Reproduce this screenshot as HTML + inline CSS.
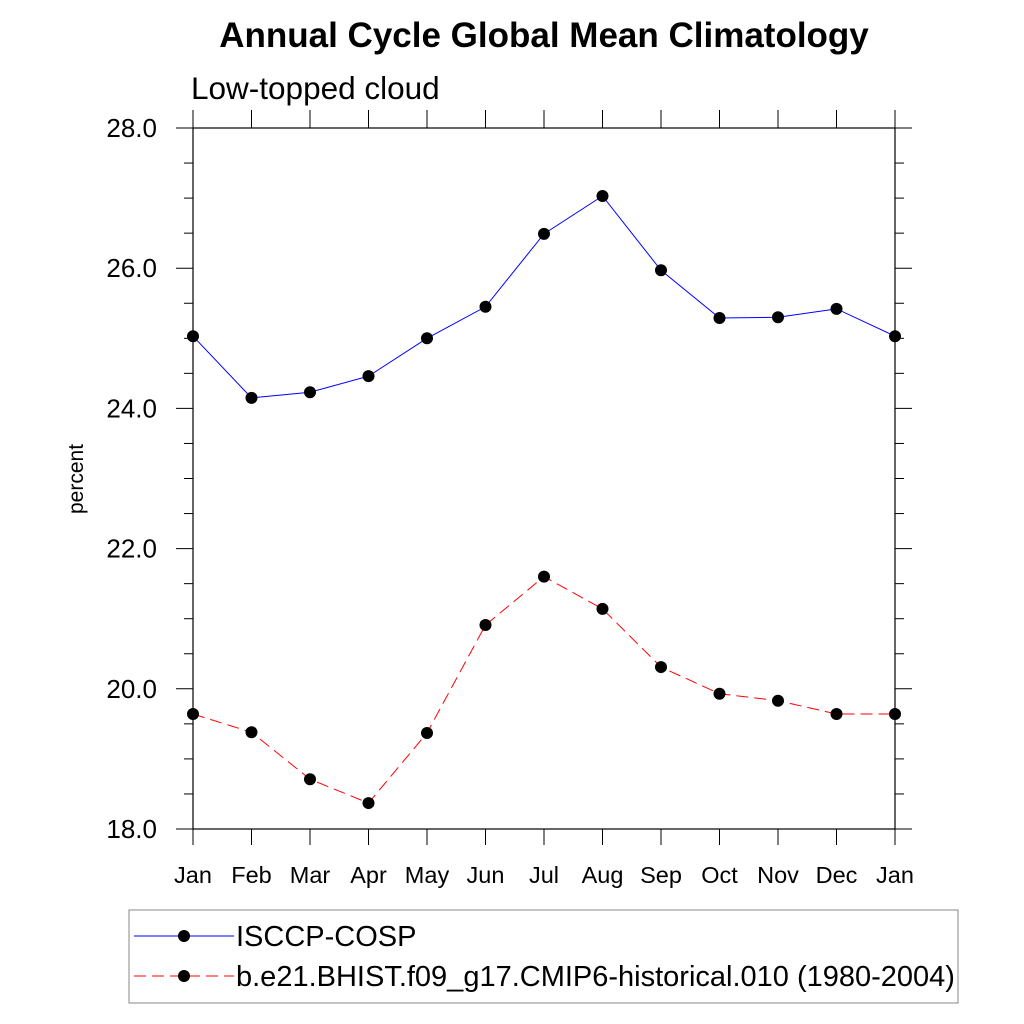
<!DOCTYPE html>
<html><head><meta charset="utf-8"><style>body{margin:0;background:#fff}svg{display:block}text{font-family:"Liberation Sans",sans-serif}</style></head>
<body>
<svg id="chart" width="1024" height="1024" xmlns="http://www.w3.org/2000/svg">
<text x="544" y="47" font-size="35" font-weight="bold" text-anchor="middle">Annual Cycle Global Mean Climatology</text>
<text x="191" y="99" font-size="31.5">Low-topped cloud</text>
<text transform="translate(83,479) rotate(-90)" font-size="21" text-anchor="middle">percent</text>
<g id="axes"></g><g id="series"></g>
<g>
<rect x="129" y="910" width="829" height="93" fill="none" stroke="#888" stroke-width="1"/>
<line x1="134" y1="936" x2="234" y2="936" stroke="#0000ff" stroke-width="1"/>
<circle cx="184" cy="936" r="6"/>
<text x="236" y="946" font-size="29">ISCCP-COSP</text>
<line x1="134" y1="976" x2="234" y2="976" stroke="#ff0000" stroke-width="1" stroke-dasharray="12,6"/>
<circle cx="184" cy="976" r="6"/>
<text x="236" y="986" font-size="29">b.e21.BHIST.f09_g17.CMIP6-historical.010 (1980-2004)</text>
</g>
</svg>
<script>
const months = ["Jan","Feb","Mar","Apr","May","Jun","Jul","Aug","Sep","Oct","Nov","Dec","Jan"];
const isccp = [25.03,24.15,24.23,24.46,25.0,25.45,26.49,27.03,25.97,25.29,25.30,25.42,25.03];
const model = [19.64,19.38,18.71,18.37,19.37,20.91,21.6,21.14,20.31,19.93,19.83,19.64,19.64];
const yTicks = [18,20,22,24,26,28];
const yTickLabels = ["18.0","20.0","22.0","24.0","26.0","28.0"];
const L=193,R=895,T=128,B=829,ymin=18,ymax=28;
const xs=i=>L+(R-L)*i/(months.length-1);
const ys=v=>B-(v-ymin)/(ymax-ymin)*(B-T);
const NS="http://www.w3.org/2000/svg";
function mk(tag,at,parent){const e=document.createElementNS(NS,tag);for(const k in at)e.setAttribute(k,at[k]);parent.appendChild(e);return e;}
const ax=document.getElementById('axes');
const fr=mk('rect',{x:L,y:T,width:R-L,height:B-T,fill:'none',stroke:'#000','stroke-width':1.2},ax);


for(let v=ymin;v<=ymax+1e-9;v+=0.5){
  const maj=Math.abs(v/2-Math.round(v/2))<1e-9;const len=maj?17:9;const y=ys(v);
  mk('line',{x1:L-len,y1:y,x2:L,y2:y,stroke:'#000','stroke-width':1},ax);
  mk('line',{x1:R,y1:y,x2:R+len,y2:y,stroke:'#000','stroke-width':1},ax);
}
yTicks.forEach((v,i)=>{const t=mk('text',{x:157,y:ys(v)+9,'font-size':26,'text-anchor':'end'},ax);t.textContent=yTickLabels[i];

});
months.forEach((m,i)=>{const x=xs(i);
  mk('line',{x1:x,y1:T-18,x2:x,y2:T,stroke:'#000','stroke-width':1},ax);
  mk('line',{x1:x,y1:B,x2:x,y2:B+16,stroke:'#000','stroke-width':1},ax);
  const t=mk('text',{x:x,y:883,'font-size':23.5,'text-anchor':'middle'},ax);t.textContent=m;
  
  });
const sg=document.getElementById('series');
function draw(vals,color,dash,name){
  const p=mk('polyline',{points:vals.map((v,i)=>xs(i)+','+ys(v)).join(' '),fill:'none',stroke:color,'stroke-width':1,'stroke-dasharray':dash},sg);
  
  
  vals.forEach((v,i)=>{const c=mk('circle',{cx:xs(i),cy:ys(v),r:6,fill:'#000'},sg);
    
    });
}
draw(isccp,'#0000ff','none','isccp');
draw(model,'#ff0000','12,6','model');
</script>
</body></html>
